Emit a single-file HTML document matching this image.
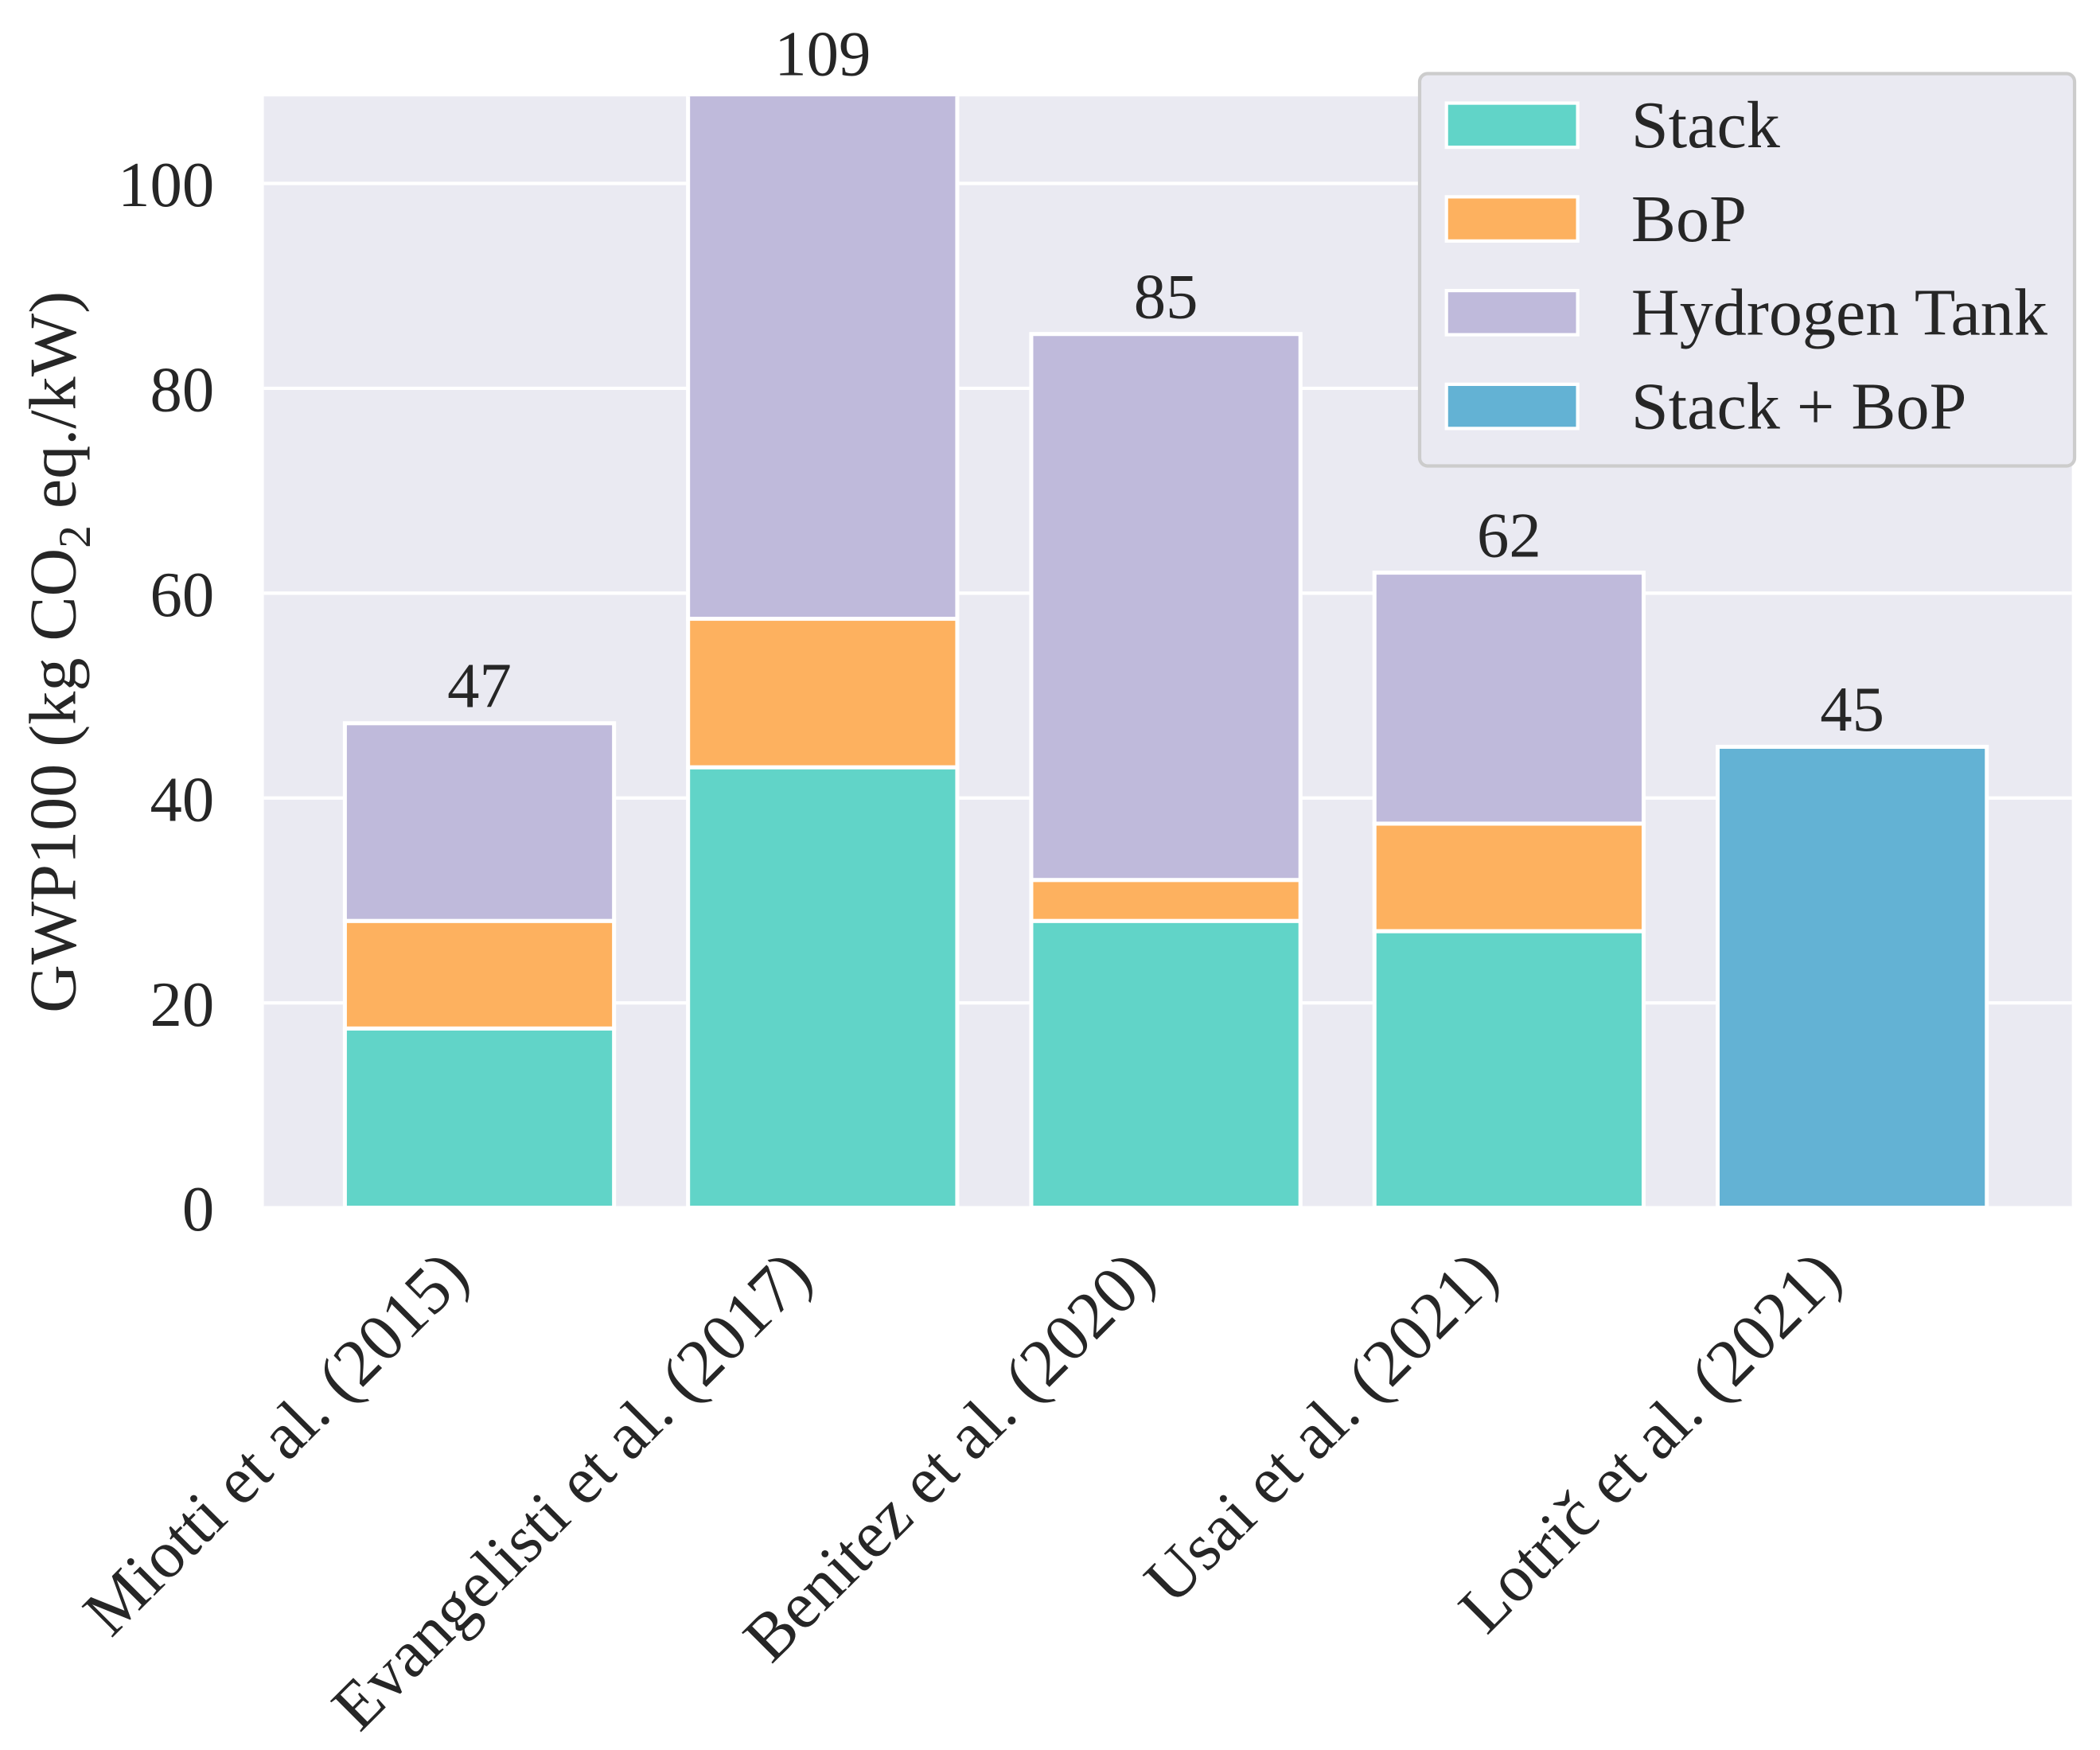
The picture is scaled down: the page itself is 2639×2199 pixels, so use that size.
<!DOCTYPE html>
<html><head><meta charset="utf-8"><style>
html,body{margin:0;padding:0;background:#fff;}
svg{display:block;font-family:"Liberation Serif",serif;}
</style></head><body>
<svg id="chart" width="2639" height="2199" viewBox="0 0 1568 1307" preserveAspectRatio="none" xmlns="http://www.w3.org/2000/svg">
<defs><clipPath id="plotclip"><rect x="197" y="72" width="1350" height="832"/></clipPath></defs>
<rect x="197" y="72" width="1350" height="830" fill="#eaeaf2"/>
<g id="grid"></g>
<g id="bars" clip-path="url(#plotclip)"></g>
<g id="labels"></g>
<text transform="translate(56,487) rotate(-90)" text-anchor="middle" font-size="50" fill="#262626">GWP100 (kg CO<tspan font-size="34" dy="11">2</tspan><tspan dy="-11"> eq./kW)</tspan></text>
<g>
<rect x="1060" y="55" width="489" height="293" rx="6" fill="#eaeaf2" stroke="#cccccc" stroke-width="2.5"/>
<rect x="1080" y="77" width="98" height="33" fill="#61d4c8" stroke="#fff" stroke-width="2.5"/>
<text x="1218" y="110" font-size="50" fill="#262626">Stack</text>
<rect x="1080" y="147" width="98" height="33" fill="#fdb15f" stroke="#fff" stroke-width="2.5"/>
<text x="1218" y="180" font-size="50" fill="#262626">BoP</text>
<rect x="1080" y="217" width="98" height="33" fill="#bfbadb" stroke="#fff" stroke-width="2.5"/>
<text x="1218" y="250" font-size="50" fill="#262626">Hydrogen Tank</text>
<rect x="1080" y="287" width="98" height="33" fill="#63b2d4" stroke="#fff" stroke-width="2.5"/>
<text x="1218" y="320" font-size="50" fill="#262626">Stack + BoP</text>
</g>
</svg>
<script>
const categories = ["Miotti et al. (2015)", "Evangelisti et al. (2017)", "Benitez et al. (2020)", "Usai et al. (2021)", "Lotrič et al. (2021)"];
const stackVals = [17.5, 43, 28, 27, 0];
const bopVals = [10.5, 14.5, 4, 10.5, 0];
const tankVals = [19.3, 51.5, 53.3, 24.5, 0];
const stackBopVals = [0, 0, 0, 0, 45];
const yTicks = [0, 20, 40, 60, 80, 100];

const NS = "http://www.w3.org/2000/svg";
const y0 = 902, pxPerUnit = 7.65;
function yScale(v){ return y0 - v * pxPerUnit; }
function xCenter(i){ return 358 + i * 256.25; }
const barW = 201;

const grid = document.getElementById('grid');
const bars = document.getElementById('bars');
const labels = document.getElementById('labels');

yTicks.forEach(t => {
  const l = document.createElementNS(NS, 'line');
  
  
  l.setAttribute('x1', 197); l.setAttribute('x2', 1547);
  l.setAttribute('y1', yScale(t)); l.setAttribute('y2', yScale(t));
  l.setAttribute('stroke', '#fff'); l.setAttribute('stroke-width', '2.5');
  grid.appendChild(l);
  const tx = document.createElementNS(NS, 'text');
  
  
  tx.setAttribute('x', 160); tx.setAttribute('y', yScale(t) + 17);
  tx.setAttribute('text-anchor', 'end'); tx.setAttribute('font-size', '48'); tx.setAttribute('fill', '#262626');
  tx.textContent = t;
  labels.appendChild(tx);
});

function seg(i, base, val, color, name){
  if (val <= 0) return;
  const r = document.createElementNS(NS, 'rect');
  
  
  r.setAttribute('x', xCenter(i) - barW/2);
  r.setAttribute('y', yScale(base + val));
  r.setAttribute('width', barW);
  r.setAttribute('height', val * pxPerUnit);
  r.setAttribute('fill', color);
  r.setAttribute('stroke', '#fff'); r.setAttribute('stroke-width', '3');
  bars.appendChild(r);
}
categories.forEach((c, i) => {
  seg(i, 0, stackVals[i], '#61d4c8', 'bar-stack');
  seg(i, stackVals[i], bopVals[i], '#fdb15f', 'bar-bop');
  seg(i, stackVals[i] + bopVals[i], tankVals[i], '#bfbadb', 'bar-hydrogen-tank');
  seg(i, 0, stackBopVals[i], '#63b2d4', 'bar-stack-bop');
  const total = stackVals[i] + bopVals[i] + tankVals[i] + stackBopVals[i];
  const v = document.createElementNS(NS, 'text');
  
  
  v.setAttribute('x', xCenter(i)); v.setAttribute('y', yScale(total) - 12);
  v.setAttribute('text-anchor', 'middle'); v.setAttribute('font-size', '48'); v.setAttribute('fill', '#262626');
  v.textContent = Math.round(total);
  labels.appendChild(v);
  const xl = document.createElementNS(NS, 'text');
  
  
  const ax = xCenter(i) - 6, ay = 955;
  xl.setAttribute('transform', 'translate(' + ax + ',' + ay + ') rotate(-45)');
  xl.setAttribute('text-anchor', 'end'); xl.setAttribute('font-size', '50'); xl.setAttribute('fill', '#262626');
  xl.textContent = c;
  labels.appendChild(xl);
});
</script>
</body></html>
